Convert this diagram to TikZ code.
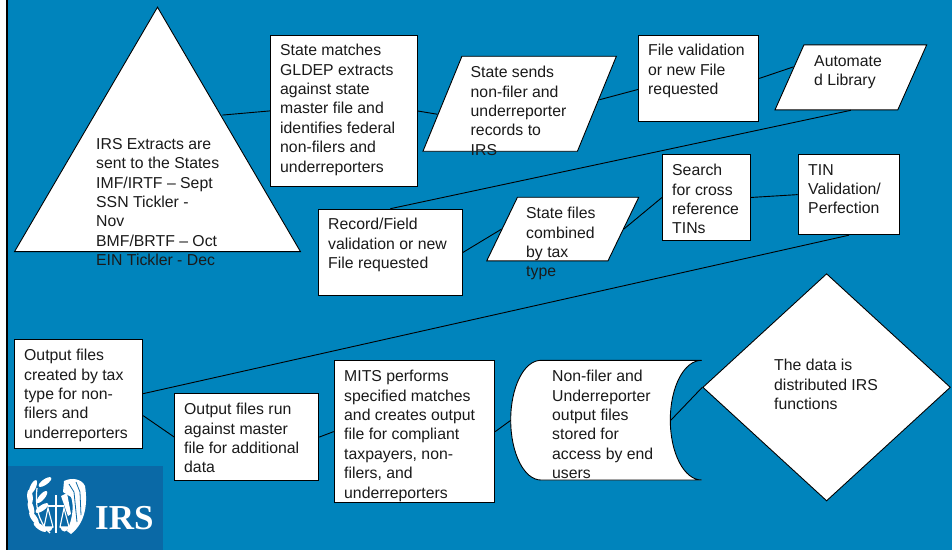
\documentclass[tikz,border=0pt]{standalone}
\usepackage{fontspec}
\setmainfont{Liberation Sans}
\newfontfamily\logofont{Liberation Serif}
\usetikzlibrary{shapes.geometric}

\definecolor{bgblue}{HTML}{0084BC}
\definecolor{logoblue}{HTML}{0A69A6}
\definecolor{inkgray}{HTML}{1A1A1A}

\tikzset{
	box/.style = {draw = black, fill = white, line width = 0.9pt, inner sep = 0pt, anchor = north west},
	para/.style n args = {3}{box, inner xsep = 1pt, inner ysep = #3, trapezium, trapezium stretches body = true, trapezium left angle = #1, trapezium right angle = #2, anchor = bottom left corner},
	txt/.style = {anchor = north west, inner sep = 0pt, align = left, text = inkgray, font = \fontsize{15.8}{19.4}\selectfont},
	link/.style = {draw = black, line width = 0.9pt},
	leaf/.style = {fill = white, draw = none}
}

\begin{document}
\begin{tikzpicture}[x = 1pt, y = -1pt]

	% Background + left rule

	\useasboundingbox (0, 0) rectangle (952, 550);
	\fill [white] (0, 0) rectangle (952, 550);
	\fill [bgblue] (7, 0) rectangle (952, 550);
	\fill [black] (6, 0) rectangle (7.5, 550);

	% Logo

	\fill [logoblue] (7.5, 466) rectangle (163, 550);
	\foreach \x/\y/\a in {45/482/35, 33/487/65, 30/497/95, 31/508/105, 34/518/125, 40/527/145, 42/497/50, 42/508/35}
		\fill [leaf] (\x, \y) ellipse [x radius = 7.5, y radius = 2.8, rotate = \a];
	\draw [white, line width = 1.2pt] (37, 488) .. controls (35, 505) and (38, 522) .. (50, 533);
	\draw [white, line width = 2.4pt] (56, 495) -- (56, 533) (48, 506) -- (64, 506);
	\draw [white, line width = 1.1pt] (48, 508) -- (44, 527) -- (53, 527) -- cycle (64, 508) -- (60, 527) -- (69, 527) -- cycle;
	\fill [white] (44, 527) .. controls (46, 533) and (51, 533) .. (53, 527) -- cycle (60, 527) .. controls (62, 533) and (67, 533) .. (69, 527) -- cycle;
	\fill [white] (64, 481) .. controls (72, 477) and (82, 479) .. (85, 486) .. controls (88, 505) and (85, 523) .. (71, 534) -- (67, 531) .. controls (73, 518) and (74, 505) .. (71, 497) -- (63, 492) -- cycle;
	\draw [logoblue, line width = 0.8pt] (69, 484) -- (74, 492) -- (77, 522) (76, 482) -- (80, 492) -- (81, 515);
	\fill [white] (61, 496) -- (67, 493) -- (71, 514) -- (68, 516) -- cycle;
	\node (logotxt) [anchor = base west, inner sep = 0pt, text = white] at (95, 529) {\logofont\bfseries\fontsize{35}{35}\selectfont IRS};

	% Top row

	\node (tri) [box, inner sep = 1pt, isosceles triangle, isosceles triangle stretches = true, shape border rotate = 90, minimum width = 286, minimum height = 244.5, anchor = apex] at (157.5, 6) {};
	\node (match) [box, minimum width = 146.5, minimum height = 151.5] at (270, 34.7) {};
	\node (sends) [para = {67.7}{112.3}{47.5pt}, minimum width = 193.4] at (422.3, 151.7) {};
	\node (valid) [box, minimum width = 120.3, minimum height = 86.6] at (638, 34.7) {};
	\node (lib) [para = {66}{114}{32.5pt}, minimum width = 151.7] at (774.3, 110.3) {};

	% Middle row

	\node (record) [box, minimum width = 144.3, minimum height = 86.6] at (317.7, 208.7) {};
	\node (comb) [para = {64.2}{115.8}{31.8pt}, minimum width = 152] at (486, 261.3) {};
	\node (search) [box, minimum width = 88.3, minimum height = 86] at (662, 154) {};
	\node (tin) [box, minimum width = 101.6, minimum height = 80.3] at (797.7, 154) {};

	% Bottom row

	\node (out) [box, minimum width = 128.3, minimum height = 109] at (14, 338.7) {};
	\node (run) [box, minimum width = 144, minimum height = 86.7] at (174.3, 393.3) {};
	\node (mits) [box, minimum width = 160.6, minimum height = 141.7] at (333.7, 360.3) {};
	\node (store) [anchor = north west, inner sep = 0pt, minimum width = 191, minimum height = 119.7] at (510.7, 360.3) {};
	\draw [fill = white, line width = 0.9pt] (541, 360.3) .. controls (524, 360.3) and (510.7, 387) .. (510.7, 420) .. controls (510.7, 453) and (524, 480) .. (541, 480) -- (701.7, 480) .. controls (684, 480) and (670.3, 453) .. (670.3, 420) .. controls (670.3, 387) and (684, 360.3) .. (701.7, 360.3) -- cycle;
	\node (dist) [box, diamond, aspect = 1.09, minimum width = 247.7, minimum height = 227.3, anchor = west] at (702.3, 387.3) {};

	% Connectors

	\draw [link] ([shift = {(-7, -14)}] tri.right side) -- (match.west);
	\draw [link] (match.east) -- ([shift = {(-4.5, 10.5)}] sends.left side);
	\draw [link] ([shift = {(2, -4)}] sends.right side) -- ([yshift = -11pt] valid.west);
	\draw [link] (valid.east) -- ([shift = {(4.5, -10.5)}] lib.left side);
	\draw [link] (lib.south) -- (record.north);
	\draw [link] (record.east) -- (comb.left side);
	\draw [link] (comb.right side) -- (search.west);
	\draw [link] (search.east) -- (tin.west);
	\draw [link] (tin.south) -- (out.east);
	\draw [link] ([yshift = -22pt] out.east) -- (run.west);
	\draw [link] (run.east) -- (mits.west);
	\draw [link] (mits.east) -- (store.west);
	\draw [link] ([xshift = -31.4pt] store.east) -- (dist.west);

	% Texts

	\node (tritxt) [txt] at (96, 138) {IRS Extracts are\\sent to the States\\IMF/IRTF -- Sept\\SSN Tickler -\\Nov\\BMF/BRTF -- Oct\\EIN Tickler - Dec};
	\node (matchtxt) [txt] at (280, 44) {State matches\\GLDEP extracts\\against state\\master file and\\identifies federal\\non-filers and\\underreporters};
	\node (sendstxt) [txt] at (470.5, 66) {State sends\\non-filer and\\underreporter\\records to\\IRS};
	\node (validtxt) [txt] at (648, 44) {File validation\\or new File\\requested};
	\node (libtxt) [txt] at (814, 55) {Automate\\d Library};
	\node (recordtxt) [txt] at (328, 218) {Record/Field\\validation or new\\File requested};
	\node (combtxt) [txt] at (526, 207) {State files\\combined\\by tax\\type};
	\node (searchtxt) [txt] at (672, 164) {Search\\for cross\\reference\\TINs};
	\node (tintxt) [txt] at (808, 164) {TIN\\Validation/\\Perfection};
	\node (outtxt) [txt] at (24, 349) {Output files\\created by tax\\type for non-\\filers and\\underreporters};
	\node (runtxt) [txt] at (184, 403) {Output files run\\against master\\file for additional\\data};
	\node (mitstxt) [txt] at (344, 370) {MITS performs\\specified matches\\and creates output\\file for compliant\\taxpayers, non-\\filers, and\\underreporters};
	\node (storetxt) [txt] at (552, 370) {Non-filer and\\Underreporter\\output files\\stored for\\access by end\\users};
	\node (disttxt) [txt] at (774, 359) {The data is\\distributed IRS\\functions};

\end{tikzpicture}
\end{document}
